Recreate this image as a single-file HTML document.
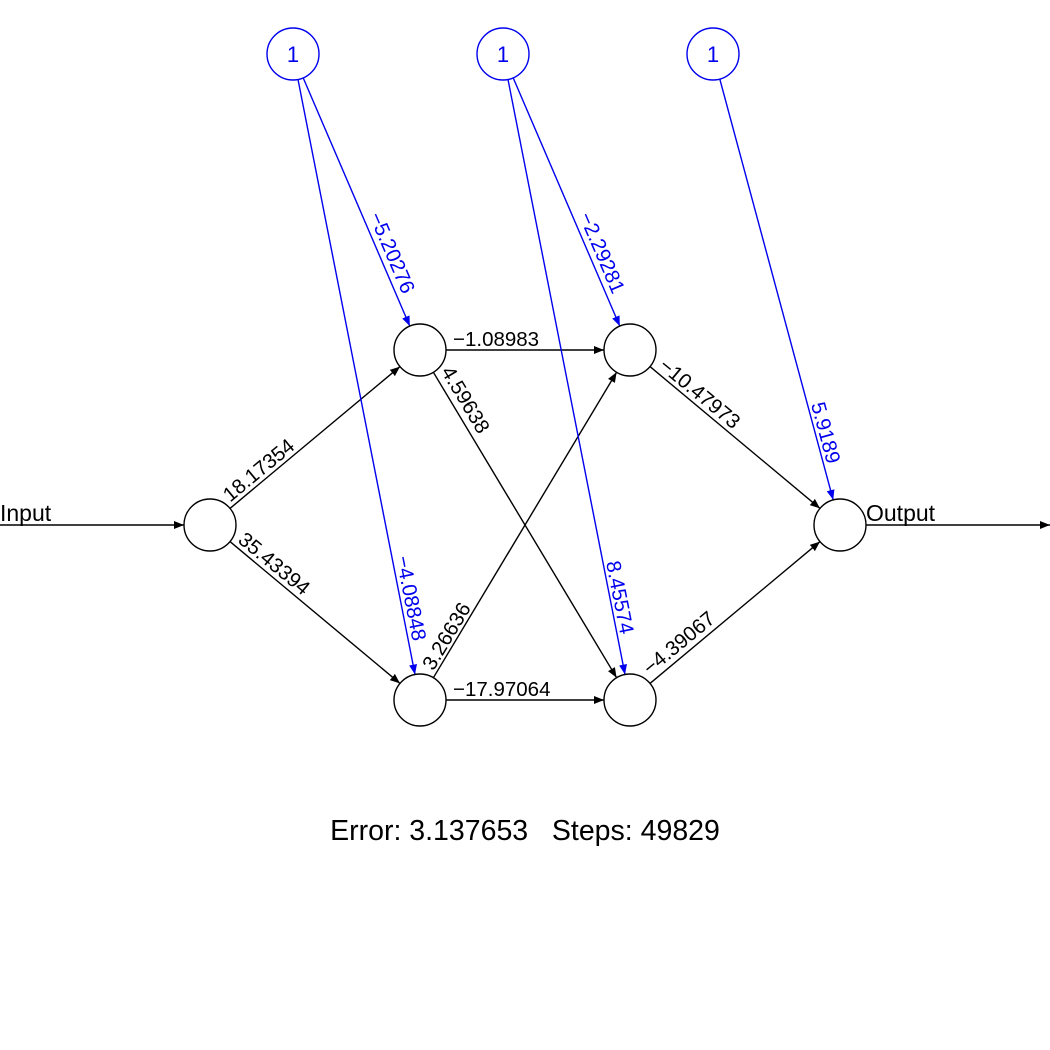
<!DOCTYPE html>
<html><head><meta charset="utf-8"><style>
html,body{margin:0;padding:0;background:#fff;}
svg{display:block;}
text{font-family:"Liberation Sans",Helvetica,Arial,sans-serif;}
</style></head><body>
<svg width="1050" height="1050" viewBox="0 0 1050 1050" xmlns="http://www.w3.org/2000/svg">
<defs>
<marker id="ab" viewBox="0 0 10 10" refX="10" refY="5" markerWidth="10" markerHeight="10" markerUnits="userSpaceOnUse" orient="auto"><path d="M0,1 L10,5 L0,9 Z" fill="#000"/></marker>
<marker id="abl" viewBox="0 0 10 10" refX="10" refY="5" markerWidth="10" markerHeight="10" markerUnits="userSpaceOnUse" orient="auto"><path d="M0,1 L10,5 L0,9 Z" fill="#0000ee"/></marker>
</defs>
<g stroke="#000" stroke-width="1.4" fill="none" marker-end="url(#ab)">
<line x1="0" y1="525" x2="184" y2="525"/>
<line x1="866" y1="525" x2="1050" y2="525"/>
<line x1="230" y1="508.4" x2="400" y2="366.6"/>
<line x1="230" y1="541.6" x2="400" y2="683.4"/>
<line x1="446" y1="350" x2="604" y2="350"/>
<line x1="446" y1="700" x2="604" y2="700"/>
<line x1="433.4" y1="372.3" x2="616.6" y2="677.7"/>
<line x1="433.4" y1="677.7" x2="616.6" y2="372.3"/>
<line x1="650" y1="366.6" x2="820" y2="508.4"/>
<line x1="650" y1="683.4" x2="820" y2="541.6"/>
</g>
<g stroke="#0000ee" stroke-width="1.4" fill="none" marker-end="url(#abl)">
<line x1="303.2" y1="77.9" x2="409.8" y2="326.1"/>
<line x1="298" y1="79.5" x2="415" y2="674.5"/>
<line x1="513.2" y1="77.9" x2="619.8" y2="326.1"/>
<line x1="508" y1="79.5" x2="625" y2="674.5"/>
<line x1="719.8" y1="79.1" x2="833.2" y2="499.9"/>
</g>
<g stroke="#000" stroke-width="1.4" fill="#fff">
<circle cx="210" cy="525" r="26"/>
<circle cx="420" cy="350" r="26"/>
<circle cx="420" cy="700" r="26"/>
<circle cx="630" cy="350" r="26"/>
<circle cx="630" cy="700" r="26"/>
<circle cx="840" cy="525" r="26"/>
</g>
<g stroke="#0000ee" stroke-width="1.4" fill="#fff">
<circle cx="293" cy="54" r="26"/>
<circle cx="503" cy="54" r="26"/>
<circle cx="713" cy="54" r="26"/>
</g>
<g fill="#0000ee" font-size="22" text-anchor="middle">
<text x="293" y="62">1</text>
<text x="503" y="62">1</text>
<text x="713" y="62">1</text>
</g>
<g font-size="23" fill="#000">
<text x="0" y="521">Input</text>
<text x="866" y="521">Output</text>
</g>
<g font-size="20.5" fill="#000">
<text transform="translate(232,505) rotate(-39.6)" y="-3">18.17354</text>
<text transform="translate(235,544) rotate(39.6)" y="-3">35.43394</text>
<text x="453" y="346">−1.08983</text>
<text x="453" y="696">−17.97064</text>
<text transform="translate(438,373) rotate(59.1)" y="-3">4.59638</text>
<text transform="translate(436,673) rotate(-59.1)" y="-3">3.26636</text>
<text transform="translate(656,370) rotate(39.6)" y="-3">−10.47973</text>
<text transform="translate(652,678) rotate(-39.6)" y="-3">−4.39067</text>
</g>
<g font-size="20.5" fill="#0000ee">
<text transform="translate(366,217) rotate(66.8)" y="-3">−5.20276</text>
<text transform="translate(393,558) rotate(78.8)" y="-3">−4.08848</text>
<text transform="translate(576,217) rotate(66.8)" y="-3">−2.29281</text>
<text transform="translate(603,563) rotate(78.8)" y="-3">8.45574</text>
<text transform="translate(808,405) rotate(74.9)" y="-3">5.9189</text>
</g>
<text x="525" y="840" font-size="28.5" text-anchor="middle" fill="#000" xml:space="preserve">Error: 3.137653   Steps: 49829</text>
</svg>
</body></html>
